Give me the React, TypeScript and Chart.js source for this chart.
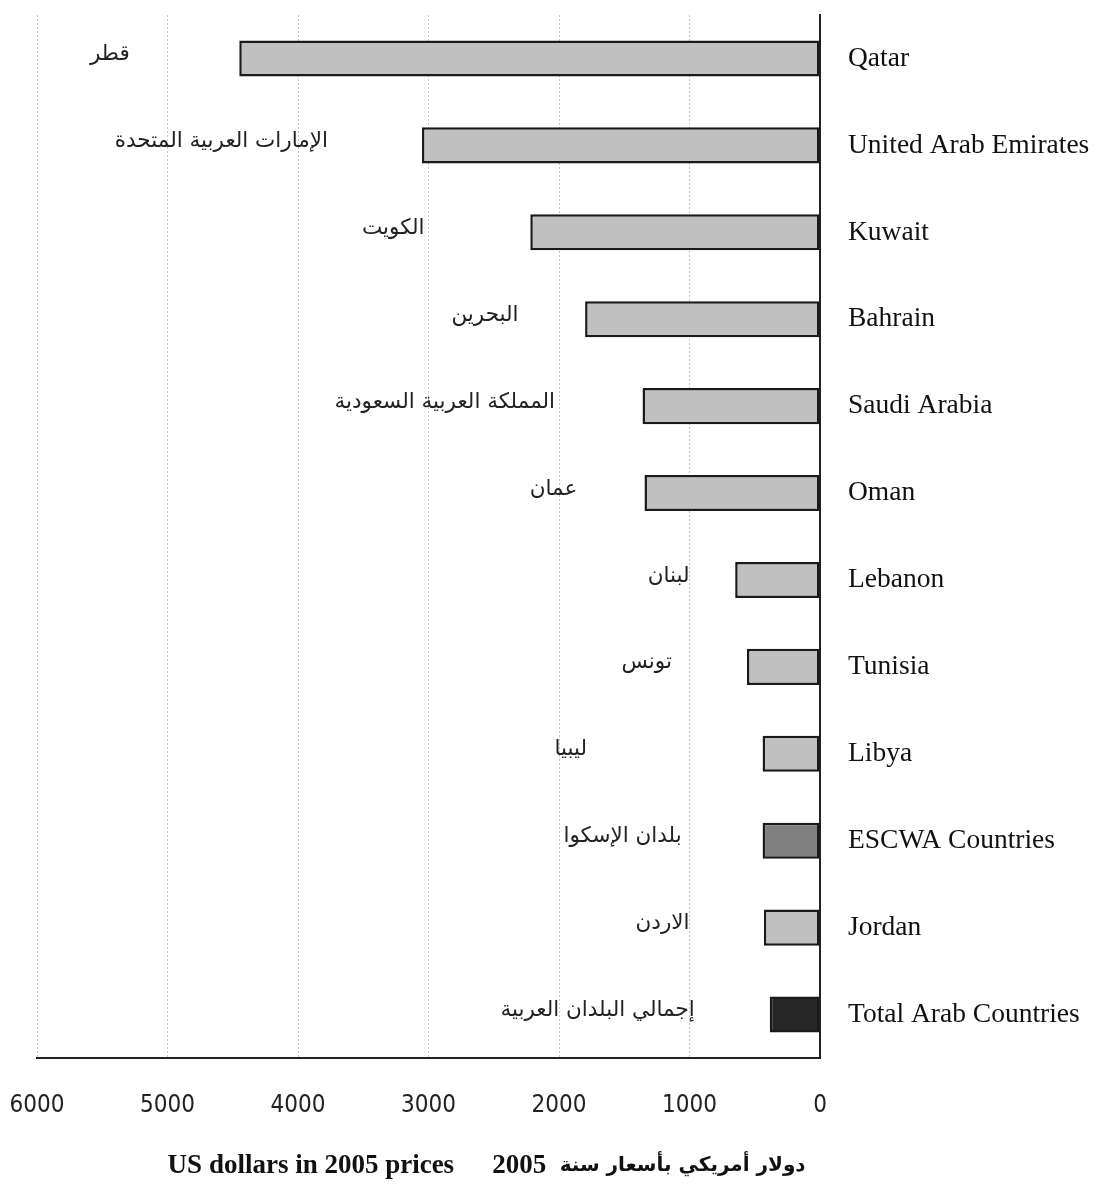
import React, { useEffect, useRef } from "react";
import { Chart, registerables } from "chart.js";

Chart.register(...registerables);

const countries = [
  "Qatar",
  "United Arab Emirates",
  "Kuwait",
  "Bahrain",
  "Saudi Arabia",
  "Oman",
  "Lebanon",
  "Tunisia",
  "Libya",
  "ESCWA Countries",
  "Jordan",
  "Total Arab Countries",
];

const arabicNames = [
  "قطر",
  "الإمارات العربية المتحدة",
  "الكويت",
  "البحرين",
  "المملكة العربية السعودية",
  "عمان",
  "لبنان",
  "تونس",
  "ليبيا",
  "بلدان الإسكوا",
  "الاردن",
  "إجمالي البلدان العربية",
];

const values = [4450, 3050, 2220, 1800, 1360, 1345, 650, 560, 440, 440, 430, 385];

// where each Arabic caption ends (right edge), in axis units
const arabicLabelAt = [5290, 3770, 3030, 2310, 2030, 1860, 1000, 1135, 1785, 1060, 1000, 960];

const barColors = [
  "#c0c0c0", "#c0c0c0", "#c0c0c0", "#c0c0c0", "#c0c0c0", "#c0c0c0",
  "#c0c0c0", "#c0c0c0", "#c0c0c0", "#808080", "#c0c0c0", "#262626",
];

const xTicks = [0, 1000, 2000, 3000, 4000, 5000, 6000];

const axisTitleEn = "US dollars in 2005 prices";
const axisTitleYear = "2005";
const axisTitleAr = "دولار أمريكي بأسعار سنة";

export default function App() {
  const ref = useRef<HTMLCanvasElement | null>(null);

  useEffect(() => {
    if (!ref.current) return;

    const arabicPlugin = {
      id: "arabicLabels",
      afterDatasetsDraw(chart: any) {
        const { ctx, scales } = chart;
        const xs = scales.x;
        const ys = scales.y;
        ctx.save();
        ctx.font = "21.5px 'DejaVu Sans', sans-serif";
        ctx.fillStyle = "#222";
        ctx.textAlign = "right";
        ctx.textBaseline = "middle";
        arabicNames.forEach((name, i) => {
          const x = xs.getPixelForValue(arabicLabelAt[i]);
          const y = ys.getPixelForValue(i) - 4;
          ctx.fillText(name, x, y);
        });
        ctx.restore();
      },
    };

    const titlePlugin = {
      id: "bottomTitle",
      afterDraw(chart: any) {
        const { ctx, chartArea } = chart;
        ctx.save();
        ctx.fillStyle = "#111";
        ctx.textBaseline = "middle";
        const cx = chartArea.left + (chartArea.right - chartArea.left) * 0.557;
        const y = chartArea.bottom + 108;
        ctx.font = "bold 27px 'Liberation Serif', serif";
        ctx.textAlign = "right";
        ctx.fillText(axisTitleEn, cx - 19, y);
        ctx.textAlign = "left";
        ctx.fillText(axisTitleYear, cx + 19, y);
        const yw = ctx.measureText(axisTitleYear + "  ").width;
        ctx.font = "bold 20px 'DejaVu Sans', sans-serif";
        ctx.fillText(axisTitleAr, cx + 19 + yw, y);
        ctx.restore();
      },
    };

    const chart = new Chart(ref.current, {
      type: "bar",
      data: {
        labels: countries,
        datasets: [
          {
            data: values,
            backgroundColor: barColors,
            borderColor: "#1a1a1a",
            borderWidth: 2.5,
            borderSkipped: false,
            barPercentage: 0.415,
            categoryPercentage: 1,
          },
        ],
      },
      options: {
        indexAxis: "y",
        responsive: false,
        animation: false,
        layout: { padding: { left: 37, top: 15, right: 0, bottom: 0 } },
        plugins: {
          legend: { display: false },
          tooltip: { enabled: false },
        },
        scales: {
          x: {
            type: "linear",
            reverse: true,
            min: 0,
            max: 6000,
            afterBuildTicks(scale: any) {
              scale.ticks = xTicks.map((v) => ({ value: v }));
            },
            afterFit(scale: any) {
              scale.height = 130;
            },
            grid: {
              color: "#c4c4c4",
              lineWidth: 1,
              drawTicks: false,
            },
            border: { display: true, color: "#222", width: 2, dash: [2, 2] },
            ticks: {
              padding: 33,
              color: "#222",
              callback: (v: any) => String(v),
              font: { family: "'Liberation Sans Narrow', 'DejaVu Sans Condensed', sans-serif", size: 24 },
            },
          },
          y: {
            position: "right",
            afterFit(scale: any) {
              scale.width = 276;
              scale.paddingTop = 0;
              scale.paddingBottom = 0;
            },
            grid: { display: false, drawTicks: false },
            border: { display: true, color: "#222", width: 2 },
            ticks: {
              padding: 28,
              color: "#111",
              crossAlign: "near",
              font: { family: "'Liberation Serif', serif", size: 27.5 },
            },
          },
        },
      },
      plugins: [arabicPlugin, titlePlugin],
    } as any);

    return () => chart.destroy();
  }, []);

  return (
    <div style={{ position: "absolute", left: 0, top: 0, width: 1096, height: 1188, background: "#fff" }}>
      <canvas ref={ref} width={1096} height={1188} style={{ display: "block" }} />
    </div>
  );
}
